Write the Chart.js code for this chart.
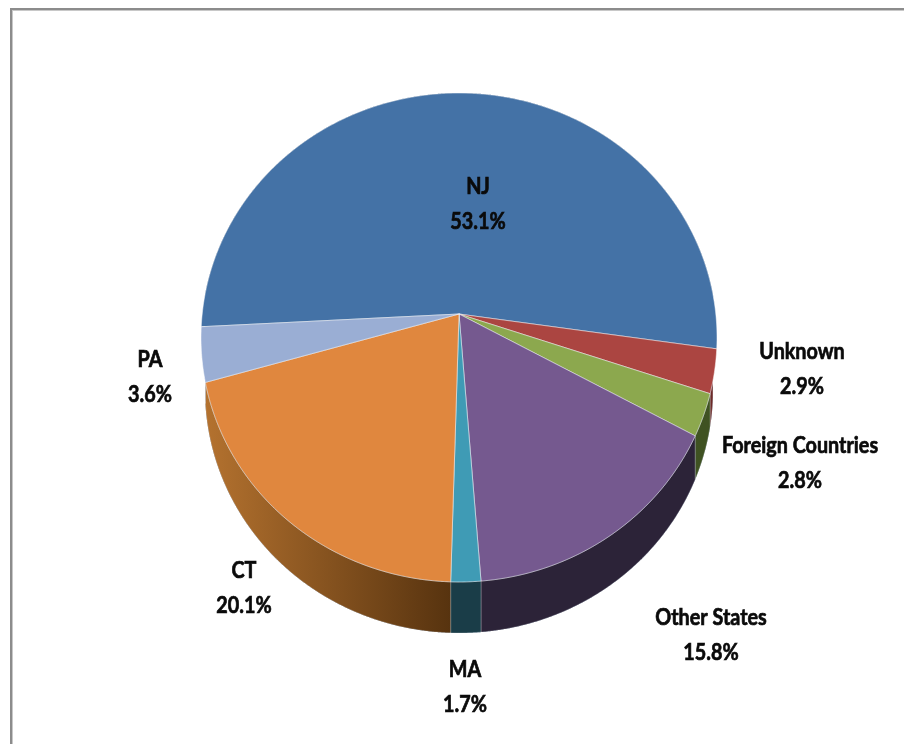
<!DOCTYPE html>
<html>
<head>
<meta charset="utf-8">
<style>html,body{margin:0;padding:0;background:#fff}canvas{display:block}</style>
<script src="https://cdn.jsdelivr.net/npm/chart.js@4"></script>
</head>
<body>
<div style="width:904px;height:744px"><canvas id="c" width="904" height="744"></canvas></div>
<script>
const categories = ["NJ","Unknown","Foreign Countries","Other States","MA","CT","PA"];
const shares = [53.1,2.9,2.8,15.8,1.7,20.1,3.6];
const topColors = ["#4472a6","#ab4541","#8ca84e","#75598f","#3f9bb5","#e0873e","#9aaed4"];
const wallColors = [["#2c4a6e","#2c4a6e"],["#6e2a28","#6e2a28"],["#3f5222","#3f5222"],["#2c2338","#2c2338"],["#1a3d48","#1a3d48"],["#b4722f","#57330f"],["#6a7a96","#6a7a96"]];
const labelCentres = [[478,187],[802,352],[800,446],[711,618],[465,670],[244,571],[150,360]];
const FONT = 'bold 23px Lato,"Liberation Sans",sans-serif';
const TEXT_SQUEEZE = 0.86;

// perspective projection of the pie's unit circle
const APEX = {x:459,y:314}, RX = 256.8, RY = 242.2, K = -0.0961;
const BASE = {x:459,y:390,rx:254,ry:243};
function rim(t){
  const u=Math.cos(t), v=Math.sin(t), w=1+K*v;
  return {x:APEX.x+RX*u/w, y:APEX.y+RY*v/w};
}
function baseY(x){
  const d=(x-BASE.x)/BASE.rx;
  if(Math.abs(d)>=1) return null;
  return BASE.y+BASE.ry*Math.sqrt(1-d*d);
}
const STEP = Math.PI/720;
function samples(a,b){
  const out=[], n=Math.max(2,Math.ceil((b-a)/STEP));
  for(let i=0;i<=n;i++) out.push(a+(b-a)*i/n);
  return out;
}
function squeezedText(ctx,text,x,y){
  ctx.save();
  ctx.translate(x,y);
  ctx.scale(TEXT_SQUEEZE,1);
  ctx.strokeText(text,0,0);
  ctx.fillText(text,0,0);
  ctx.restore();
}
const pie3d = {
  id:'pie3d',
  beforeDatasetsDraw(chart){
    const ctx=chart.ctx, arcs=chart.getDatasetMeta(0).data;
    ctx.save();
    // frame
    ctx.fillStyle='#8c8c8c';
    ctx.fillRect(10,8,894,2);
    ctx.fillRect(10,8,2,736);
    ctx.fillStyle='#c8c8c8';
    ctx.fillRect(12,10,892,1);
    ctx.fillRect(12,10,1,734);
    // side walls
    arcs.forEach((arc,i)=>{
      const pts=samples(arc.startAngle,arc.endAngle).map(rim)
        .map(p=>({p,y:baseY(p.x)})).filter(o=>o.y!==null && o.y>o.p.y);
      if(pts.length<2) return;
      const xs=pts.map(o=>o.p.x), x0=Math.min(...xs), x1=Math.max(...xs);
      const g=ctx.createLinearGradient(x0,0,x1,0);
      g.addColorStop(0,wallColors[i][0]); g.addColorStop(1,wallColors[i][1]);
      ctx.beginPath();
      pts.forEach((o,j)=>j?ctx.lineTo(o.p.x,o.p.y):ctx.moveTo(o.p.x,o.p.y));
      pts.slice().reverse().forEach(o=>ctx.lineTo(o.p.x,o.y));
      ctx.closePath();
      ctx.fillStyle=g; ctx.fill();
      ctx.strokeStyle='rgba(255,255,255,0.25)'; ctx.lineWidth=1; ctx.stroke();
    });
    // top faces
    arcs.forEach((arc,i)=>{
      ctx.beginPath();
      ctx.moveTo(APEX.x,APEX.y);
      samples(arc.startAngle,arc.endAngle).map(rim).forEach(p=>ctx.lineTo(p.x,p.y));
      ctx.closePath();
      ctx.fillStyle=topColors[i]; ctx.fill();
      ctx.strokeStyle='rgba(255,255,255,0.5)'; ctx.lineWidth=1; ctx.stroke();
    });
    ctx.restore();
    return false;
  },
  afterDraw(chart){
    const ctx=chart.ctx;
    ctx.save();
    ctx.font=FONT; ctx.fillStyle='#0a0a0a'; ctx.strokeStyle='#0a0a0a'; ctx.lineWidth=0.7;
    ctx.textAlign='center'; ctx.textBaseline='middle';
    categories.forEach((name,i)=>{
      const [x,y]=labelCentres[i];
      squeezedText(ctx,name,x,y);
      squeezedText(ctx,shares[i].toFixed(1)+'%',x,y+34.5);
    });
    ctx.restore();
  }
};
new Chart(document.getElementById('c'),{
  type:'pie',
  data:{labels:categories,datasets:[{data:shares,backgroundColor:topColors,borderWidth:0}]},
  options:{
    responsive:false,animation:false,rotation:-93,
    plugins:{legend:{display:false},tooltip:{enabled:false},title:{display:false}}
  },
  plugins:[pie3d]
});
</script>
</body>
</html>
